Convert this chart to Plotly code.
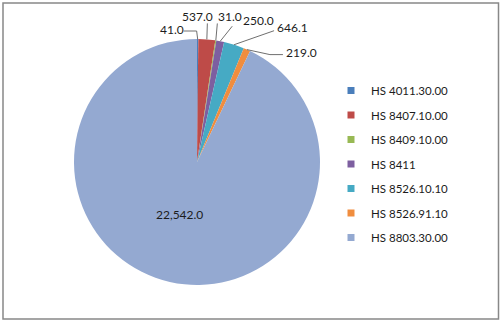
import math
import plotly.graph_objects as go

# HS codes and trade values
codes = ["HS 4011.30.00", "HS 8407.10.00", "HS 8409.10.00", "HS 8411",
         "HS 8526.10.10", "HS 8526.91.10", "HS 8803.30.00"]
values = [41.0, 537.0, 31.0, 250.0, 646.1, 219.0, 22542.0]
colors = ["#4A7EBB", "#BE4B48", "#98B954", "#7D5FA0", "#46AAC4", "#F08D3E", "#94A9D1"]

W, H = 504, 324
CX, CY, R = 197, 162, 123          # pie centre / radius (px)
FONT = "Lato"
TEXT_COLOR = "#1c1c1c"
LINE_COLOR = "#6f6f6f"

# label layout per slice: text offset from rim point, then leader points
# given relative to the text centre (drawn rim -> ... -> last point)
label_layout = [
    ((-26, -10), [(25, 2), (12, 2)]),
    ((-9, -23), [(9.5, 7)]),
    ((14, -24), [(-12.5, 7)]),
    ((38, -21), [(-26, 6)]),
    ((58, -17), [(-18, 3)]),
    ((55, 3), [(-32, 2), (-19, 2)]),
    None,  # large slice: label drawn inside
]


def px(x, y):
    return x / W, 1 - y / H


def fmt(v):
    return f"{v:,.1f}"


total = sum(values)
fig = go.Figure()

x0, y0 = px(CX - R, CY + R)
x1, y1 = px(CX + R, CY - R)
fig.add_trace(go.Pie(
    labels=codes, values=values, sort=False, direction="clockwise", rotation=0,
    marker=dict(colors=colors, line=dict(width=0)),
    textinfo="none", hoverinfo="label+value", showlegend=False,
    domain=dict(x=[x0, x1], y=[y0, y1]),
))

annotations = []
shapes = []
cum = 0.0
for val, lay in zip(values, label_layout):
    mid = (cum + val / 2) / total * 2 * math.pi
    cum += val
    if lay is None:
        r = 0.44 * R
        tx = CX + r * math.sin(mid) - 6
        ty = CY - r * math.cos(mid)
    else:
        ex = CX + R * math.sin(mid)
        ey = CY - R * math.cos(mid)
        (dx, dy), pts = lay
        tx, ty = ex + dx, ey + dy
        path_pts = [(ex, ey)] + [(tx + a, ty + b) for a, b in pts]
        path = "M" + " L".join(f"{px(a, b)[0]:.5f},{px(a, b)[1]:.5f}" for a, b in path_pts)
        shapes.append(dict(type="path", path=path, xref="paper", yref="paper",
                           line=dict(color=LINE_COLOR, width=1)))
    ax, ay = px(tx, ty)
    annotations.append(dict(text=fmt(val), x=ax, y=ay, xref="paper", yref="paper",
                            xanchor="center", yanchor="middle", showarrow=False,
                            font=dict(family=FONT, size=12, color=TEXT_COLOR)))

# legend entries (one group each so spacing can be set)
for i, (c, col) in enumerate(zip(codes, colors)):
    fig.add_trace(go.Scatter(
        x=[None], y=[None], mode="markers", name=c, legendgroup=f"g{i}",
        marker=dict(symbol="square", size=7, color=col), hoverinfo="skip",
    ))

# chart frame
shapes.append(dict(type="rect", xref="paper", yref="paper",
                   x0=px(3, 0)[0], x1=px(498.5, 0)[0], y0=px(0, 319)[1], y1=px(0, 3)[1],
                   line=dict(color="#888888", width=1.5), fillcolor="rgba(0,0,0,0)"))

lx, ly = px(331, 76)
fig.update_layout(
    width=W, height=H, autosize=False,
    margin=dict(l=0, r=0, t=0, b=0),
    paper_bgcolor="white", plot_bgcolor="white",
    xaxis=dict(visible=False), yaxis=dict(visible=False),
    showlegend=True,
    legend=dict(x=lx, y=ly, xanchor="left", yanchor="top",
                font=dict(family=FONT, size=11.5, color=TEXT_COLOR),
                tracegroupgap=5.5, bgcolor="rgba(0,0,0,0)", borderwidth=0),
    annotations=annotations, shapes=shapes,
)

fig.write_html("out.html")
